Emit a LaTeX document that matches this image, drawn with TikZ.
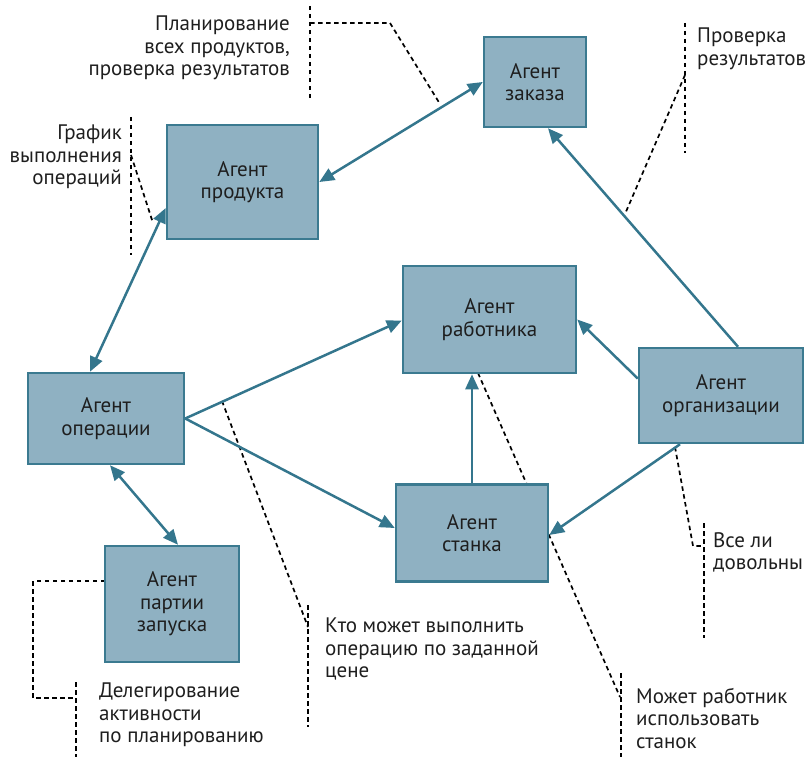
\documentclass[tikz,border=0pt]{standalone}
\usepackage{fontspec}
\setmainfont{PT Sans}
\usetikzlibrary{arrows.meta,backgrounds}
\definecolor{boxfill}{HTML}{8FB1C2}
\definecolor{boxline}{HTML}{3B7A90}
\definecolor{arrowcol}{HTML}{34768D}
\definecolor{textcol}{HTML}{1E1E1E}

\begin{document}
\begin{tikzpicture}[x=1pt, y=-1pt, >={Triangle[length=15pt,width=13pt]},
        agent/.style = {draw=boxline, fill=boxfill, line width=2.5pt, align=center, text=textcol, font=\fontsize{21}{22.5}\selectfont, inner sep=0pt},
        link/.style = {draw=arrowcol, line width=2.5pt},
        note/.style = {inner sep=0pt, text=textcol, font=\fontsize{21}{22.5}\selectfont},
        lead/.style = {draw=black, line width=1.7pt, dash pattern=on 4.5pt off 3.5pt}]
    \useasboundingbox (0,0) rectangle (806,762);

        \node[agent, minimum width=102pt, minimum height=90pt] (zakaz) at (535,82) {Агент\\заказа};
        \node[agent, minimum width=151pt, minimum height=114pt] (produkt) at (242.5,182) {Агент\\продукта};
        \node[agent, minimum width=173pt, minimum height=107pt] (rabotnik) at (489.5,319.5) {Агент\\работника};
        \node[agent, minimum width=156pt, minimum height=91pt] (operaciya) at (106,418.5) {Агент\\операции};
        \node[agent, minimum width=164pt, minimum height=95pt] (organizaciya) at (721,395.5) {Агент\\организации};
        \node[agent, minimum width=152pt, minimum height=97pt] (stanok) at (472,533) {Агент\\станка};
        \node[agent, minimum width=134pt, minimum height=116pt] (partiya) at (172,604) {Агент\\партии\\запуска};

        \node[note, anchor=north east, align=right] (n1) at (290,16) {Планирование\\всех продуктов,\\проверка результатов};
        \node[note, anchor=north west, align=left] (n2) at (697,28) {Проверка\\результатов};
        \node[note, anchor=north east, align=right] (n3) at (122,125) {График\\выполнения\\операций};
        \node[note, anchor=north west, align=left] (n4) at (99,683) {Делегирование\\активности\\по планированию};
        \node[note, anchor=north west, align=left] (n5) at (325,618) {Кто может выполнить\\операцию по заданной\\цене};
        \node[note, anchor=north west, align=left] (n6) at (713,532) {Все ли\\довольны};
        \node[note, anchor=north west, align=left] (n7) at (636,688) {Может работник\\использовать\\станок};

        \path[<->] (produkt.east) edge[link] (zakaz.west);
        \path[<->] ([yshift=-26pt]produkt.west) edge[link] ([xshift=-16pt]operaciya.north);
        \path[->] (operaciya.east) edge[link] ([yshift=-1pt]rabotnik.west);
        \path[->] (operaciya.east) edge[link] ([yshift=5pt]stanok.west);
        \path[<->] ([xshift=4pt]operaciya.south) edge[link] ([xshift=6pt]partiya.north);
        \path[->] (stanok.north) edge[link] (stanok.north |- rabotnik.south);
        \path[->] ([yshift=17pt]organizaciya.west) edge[link] (rabotnik.east);
        \path[->] ([xshift=17pt]organizaciya.north) edge[link] ([xshift=13pt]zakaz.south);
        \path[->] ([xshift=-41pt]organizaciya.south) edge[link] ([yshift=-2pt]stanok.east);

    % callouts
    \begin{scope}[on background layer]
        \draw[lead] (310,6) -- (310,100);
        \draw[lead] (310,23) -- (390,23) -- (440,104);
        \draw[lead] (685,23) -- (685,153);
        \draw[lead] (685,75) -- (625,214);
        \draw[lead] (131,117) -- (131,255);
        \draw[lead] (131,155) -- (153,223);
        \draw[lead] (105,581) -- (33,581) -- (33,698) -- (76,698);
        \draw[lead] (76,682) -- (76,757);
        \draw[lead] (308,605) -- (308,727);
        \draw[lead] (222,401) -- (308,627);
        \draw[lead] (675,447) -- (693,546) -- (704,546);
        \draw[lead] (704,523) -- (704,638);
        \draw[lead] (478,373) -- (620,697);
        \draw[lead] (621,673) -- (621,757);
    \end{scope}
    \end{tikzpicture}
\end{document}
